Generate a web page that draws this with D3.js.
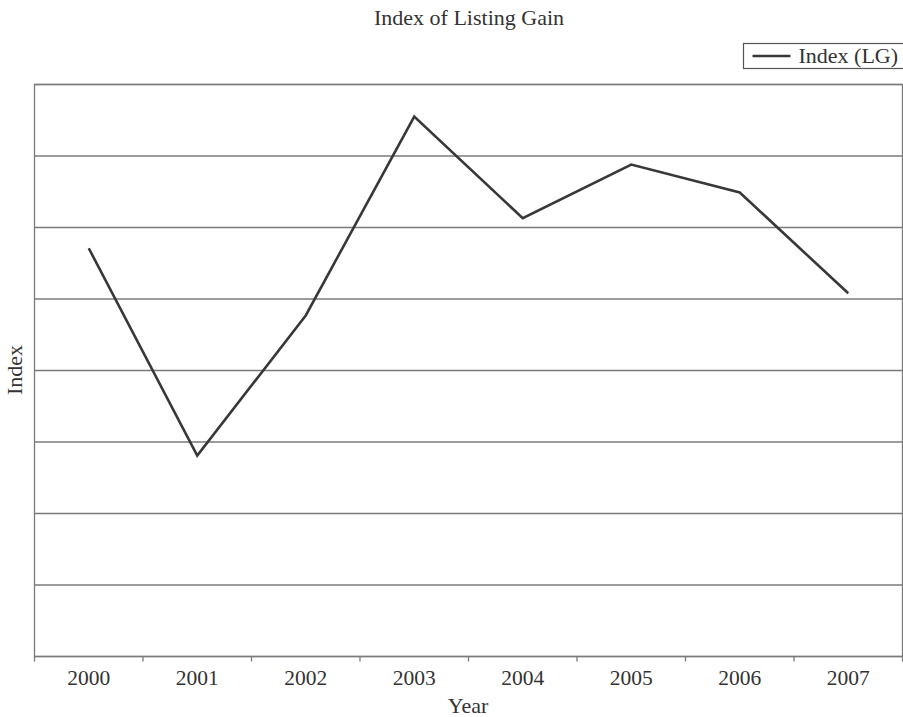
<!DOCTYPE html>
<html lang="en">
<head>
<meta charset="UTF-8">
<title>Index of Listing Gain</title>
<script src="https://d3js.org/d3.v7.min.js"></script>
<style>
    body { margin: 0; background: #fff; }
    svg { display: block; }
    text { font-family: "Liberation Serif", "Times New Roman", serif; fill: #333; }
</style>
</head>
<body>
<svg></svg>
<script>
    // data (index in gridline units)
    const years = ["2000", "2001", "2002", "2003", "2004", "2005", "2006", "2007"];
    const indexLG = [5.71, 2.81, 4.77, 7.55, 6.13, 6.88, 6.49, 5.08];
    const gridValues = [0, 1, 2, 3, 4, 5, 6, 7, 8];

    const W = 903, H = 717;
    const margin = { top: 84, right: 1, bottom: 61, left: 34 };
    const width = W - margin.left - margin.right;
    const height = H - margin.top - margin.bottom;

    const svg = d3.select("svg").attr("width", W).attr("height", H);
    const g = svg.append("g")
        .attr("transform", `translate(${margin.left + 0.5},${margin.top + 0.5})`);

    const x = d3.scaleBand().domain(years).range([0, width]);
    const y = d3.scaleLinear().domain([0, 8]).range([height, 0]);

    // horizontal gridlines
    g.selectAll(".grid")
        .data(gridValues)
        .enter().append("line")
        .attr("x1", 0).attr("x2", width)
        .attr("y1", d => y(d)).attr("y2", d => y(d))
        .attr("stroke", "#7a7a7a")
        .attr("stroke-width", 1.3);

    // frame
    g.append("rect")
        .attr("width", width).attr("height", height)
        .attr("fill", "none")
        .attr("stroke", "#7a7a7a")
        .attr("stroke-width", 1.3);

    // x ticks on band boundaries
    const bounds = years.map(d => x(d)).concat([width]);
    g.selectAll(".tick-mark")
        .data(bounds)
        .enter().append("line")
        .attr("x1", d => d).attr("x2", d => d)
        .attr("y1", height).attr("y2", height + 5)
        .attr("stroke", "#7a7a7a")
        .attr("stroke-width", 1.3);

    g.selectAll(".tick-label")
        .data(years)
        .enter().append("text")
        .attr("x", d => x(d) + x.bandwidth() / 2)
        .attr("y", height + 28)
        .attr("text-anchor", "middle")
        .style("font-size", "21.5px")
        .text(d => d);

    // line
    const line = d3.line()
        .x((d, i) => x(years[i]) + x.bandwidth() / 2)
        .y(d => y(d));

    g.append("path")
        .datum(indexLG)
        .attr("d", line)
        .attr("fill", "none")
        .attr("stroke", "#383838")
        .attr("stroke-width", 2.6)
        .attr("stroke-linejoin", "miter");

    // titles
    svg.append("text")
        .attr("x", 469).attr("y", 25)
        .attr("text-anchor", "middle")
        .style("font-size", "22px")
        .text("Index of Listing Gain");

    svg.append("text")
        .attr("x", margin.left + width / 2).attr("y", 713)
        .attr("text-anchor", "middle")
        .style("font-size", "22px")
        .text("Year");

    svg.append("text")
        .attr("transform", `translate(22,${margin.top + height / 2}) rotate(-90)`)
        .attr("text-anchor", "middle")
        .style("font-size", "22px")
        .text("Index");

    // legend
    const legend = svg.append("g").attr("transform", "translate(743.5,43.5)");
    legend.append("rect")
        .attr("width", 170).attr("height", 25)
        .attr("fill", "#fff")
        .attr("stroke", "#555")
        .attr("stroke-width", 1.2);
    legend.append("line")
        .attr("x1", 9).attr("x2", 47)
        .attr("y1", 12.5).attr("y2", 12.5)
        .attr("stroke", "#383838")
        .attr("stroke-width", 2.6);
    legend.append("text")
        .attr("x", 55).attr("y", 19.5)
        .style("font-size", "22px")
        .text("Index (LG)");
</script>
</body>
</html>
